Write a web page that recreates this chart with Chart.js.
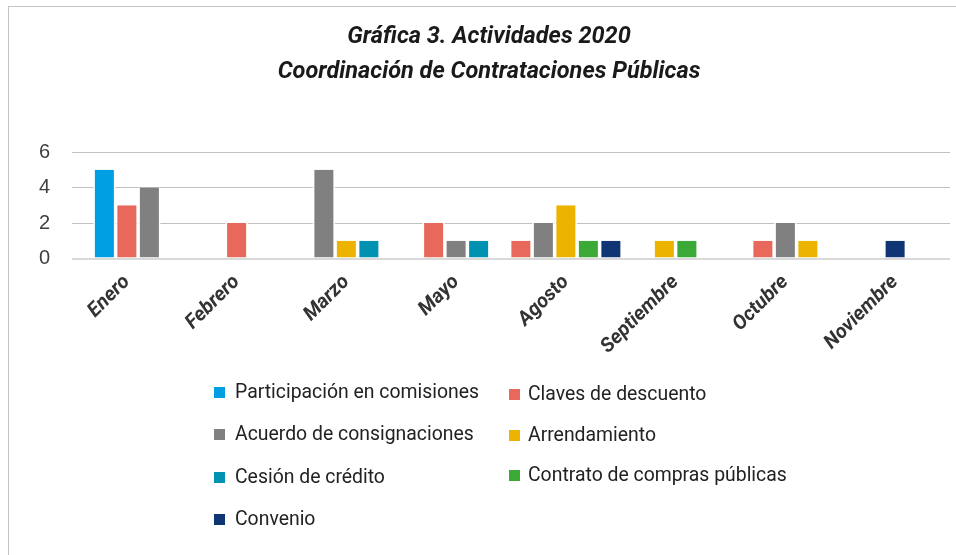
<!DOCTYPE html>
<html>
<head>
<meta charset="utf-8">
<script src="https://cdn.jsdelivr.net/npm/chart.js@4.4.1/dist/chart.umd.min.js"></script>
<style>
  html, body { margin: 0; padding: 0; background: #fff; }
  #wrap { position: relative; width: 956px; height: 555px; overflow: hidden; background: #fff; }
  #frame { position: absolute; left: 8px; top: 6px; width: 960px; height: 560px;
           border-top: 1px solid #c4c4c4; border-left: 1px solid #c4c4c4; }
  #chartBox { position: absolute; left: 0; top: 0; width: 956px; height: 380px; }
  #legend { position: absolute; left: 0; top: 0; width: 956px; height: 555px; pointer-events: none; }
  .item { position: absolute; font-family: Roboto, sans-serif; font-size: 19.4px; color: #222;
          white-space: nowrap; line-height: 20px; }
  .item span.box { position: absolute; width: 11px; height: 11px; top: 5px; }
</style>
</head>
<body>
<div id="wrap">
  <div id="frame"></div>
  <div id="chartBox"><canvas id="chartCanvas" width="956" height="380"></canvas></div>
  <div id="legend"></div>
</div>
<script>
// categories and series (null = no bar)
const months = ['Enero', 'Febrero', 'Marzo', 'Mayo', 'Agosto', 'Septiembre', 'Octubre', 'Noviembre'];
const participacion = [5, null, null, null, null, null, null, null];
const claves = [3, 2, null, 2, 1, null, 1, null];
const acuerdo = [4, null, 5, 1, 2, null, 2, null];
const arrendamiento = [null, null, 1, null, 3, 1, 1, null];
const cesion = [null, null, 1, 1, null, null, null, null];
const contrato = [null, null, null, null, 1, 1, null, null];
const convenio = [null, null, null, null, 1, null, null, 1];
const yTicks = [0, 2, 4, 6];

const seriesNames = ['Participación en comisiones', 'Claves de descuento', 'Acuerdo de consignaciones',
    'Arrendamiento', 'Cesión de crédito', 'Contrato de compras públicas', 'Convenio'];
const seriesData = [participacion, claves, acuerdo, arrendamiento, cesion, contrato, convenio];
const colors = ['#009fe3', '#e8695c', '#808080', '#ecb400', '#0092b0', '#3aa935', '#103574'];

const datasets = seriesNames.map((name, i) => ({
    label: name,
    data: seriesData[i],
    backgroundColor: colors[i],
    borderColor: '#ffffff',
    borderWidth: { left: 1.75, right: 1.75, top: 0, bottom: 0 },
    borderSkipped: false,
    inflateAmount: 0,
    barThickness: 22.5,
    skipNull: true
}));

const ctx = document.getElementById('chartCanvas').getContext('2d');
const chart = new Chart(ctx, {
    type: 'bar',
    data: { labels: months, datasets: datasets },
    options: {
        responsive: false,
        animation: false,
        layout: { padding: { left: 28, right: 6, top: 0, bottom: 11.5 } },
        scales: {
            x: {
                grid: { display: false, drawTicks: false },
                border: { display: false },
                ticks: {
                    minRotation: 45, maxRotation: 45, padding: 12,
                    color: '#333',
                    font: { family: 'Roboto', size: 20, weight: 'bold', style: 'italic' }
                },
                afterFit: s => { s.height = 110; }
            },
            y: {
                min: 0, max: 6,
                afterBuildTicks: s => { s.ticks = yTicks.map(v => ({ value: v })); },
                grid: {
                    drawTicks: false,
                    color: c => c.tick && c.tick.value === 0 ? '#d9d9d9' : '#c0c0c0',
                    lineWidth: c => c.tick && c.tick.value === 0 ? 2 : 1
                },
                border: { display: false },
                ticks: {
                    padding: 22, color: '#404040',
                    font: { family: 'Liberation Sans', size: 20 }
                },
                afterFit: s => { s.width = 44; }
            }
        },
        plugins: {
            legend: { display: false },
            tooltip: { enabled: false },
            title: {
                display: true,
                text: ['Gráfica 3. Actividades 2020', 'Coordinación de Contrataciones Públicas'],
                color: '#1a1a1a',
                font: { family: 'Roboto', size: 23.5, weight: 'bold', style: 'italic', lineHeight: 1.5 },
                padding: { top: 19, bottom: 62.5 }
            }
        }
    }
});

// legend in two columns below the chart
const legendEl = document.getElementById('legend');
const legendPos = [
    [214, 382], [509, 384],
    [214, 424], [509, 425],
    [214, 467], [509, 465],
    [214, 509]
];
chart.data.datasets.forEach((ds, i) => {
    const item = document.createElement('div');
    item.className = 'item';
    item.style.left = legendPos[i][0] + 'px';
    item.style.top = legendPos[i][1] + 'px';
    item.style.paddingLeft = (i % 2 === 0 ? 21 : 19) + 'px';
    const box = document.createElement('span');
    box.className = 'box';
    box.style.left = '0px';
    box.style.background = ds.backgroundColor;
    item.appendChild(box);
    item.appendChild(document.createTextNode(ds.label));
    legendEl.appendChild(item);
});
</script>
</body>
</html>
